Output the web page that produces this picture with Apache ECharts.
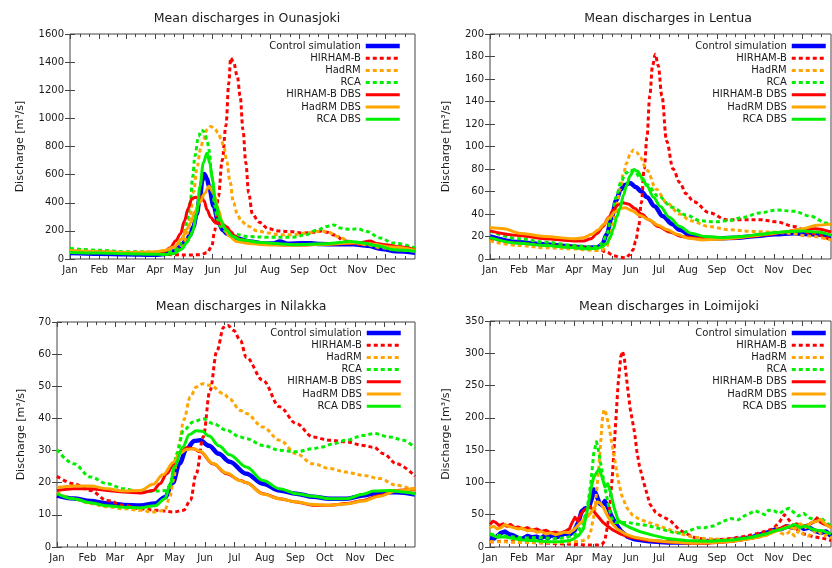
<!DOCTYPE html>
<html>
<head>
<meta charset="utf-8">
<script src="https://cdn.jsdelivr.net/npm/echarts@6/dist/echarts.min.js"></script>
<style>
  html, body { margin: 0; padding: 0; background: #fff; }
  #chart { width: 832px; height: 568px; }
</style>
</head>
<body>
<div id="chart"></div>
<script>
// Month axis: day-of-year where each month starts, and its label
const monthStarts = [0, 31, 59, 90, 120, 151, 181, 212, 243, 273, 304, 334];
const monthNames = ['Jan', 'Feb', 'Mar', 'Apr', 'May', 'Jun', 'Jul', 'Aug', 'Sep', 'Oct', 'Nov', 'Dec'];

const seriesNames = ['Control simulation', 'HIRHAM-B', 'HadRM', 'RCA', 'HIRHAM-B DBS', 'HadRM DBS', 'RCA DBS'];

// ---- Ounasjoki: [day of year, discharge m3/s] ----
const ounasControl = [[0,42],[31,37],[59,34],[90,30],[100,35],[110,55],[116,85],[123,130],[127,170],[130.5,230],[134,320],[137.6,445],[140,560],[142,605],[145,570],[147,517],[152,375],[157,256],[162,205],[166,180],[176,148],[190,125],[205,112],[215,110],[222,125],[230,108],[245,112],[255,112],[265,106],[280,105],[300,105],[315,95],[330,72],[345,55],[365,45]];
const ounasHir = [[0,60],[31,50],[59,45],[90,40],[100,33],[110,30],[125,28],[138,30],[145,45],[150,90],[153,200],[157,445],[161,700],[165,950],[168,1250],[170,1430],[173,1400],[177,1300],[180,1160],[183,920],[186,685],[189,470],[193,320],[200,262],[210,215],[220,200],[232,195],[245,185],[258,190],[266,200],[272,190],[280,170],[290,130],[305,105],[318,108],[330,100],[345,88],[365,70]];
const ounasHad = [[0,62],[31,52],[59,47],[90,50],[100,58],[110,62],[116,75],[120,95],[124,180],[127,300],[131,480],[134,635],[138,780],[141,850],[145,920],[149,943],[153,925],[157,896],[160,850],[163,790],[166,690],[169,560],[173,400],[177,320],[181,270],[188,235],[198,200],[210,185],[220,173],[236,173],[250,185],[262,196],[272,196],[283,160],[297,125],[314,100],[330,80],[345,65],[365,55]];
const ounasRca = [[0,75],[31,62],[59,52],[90,48],[100,45],[110,55],[116,100],[120,160],[124,270],[127,398],[130,590],[132,730],[136,872],[139,915],[142,905],[145,850],[147,777],[150,600],[153,380],[156,280],[159,230],[166,190],[173,180],[187,160],[208,155],[236,155],[250,173],[261,205],[272,232],[279,242],[286,220],[297,210],[304,215],[314,196],[328,150],[342,114],[365,78]];
const ounasHirDbs = [[0,55],[31,50],[59,47],[90,45],[100,55],[106,80],[112,130],[117,180],[121,270],[125,360],[129,430],[133,440],[136,430],[139,445],[142,410],[145,350],[149,295],[153,265],[158,252],[162,245],[166,228],[170,195],[174,165],[180,138],[190,120],[205,105],[225,100],[250,100],[270,105],[290,110],[305,115],[318,128],[324,110],[335,100],[350,85],[365,65]];
const ounasHadDbs = [[0,60],[31,52],[59,47],[90,50],[100,60],[110,85],[118,140],[124,215],[128,260],[132,335],[137,400],[143,470],[147,517],[152,470],[157,350],[162,232],[169,160],[176,125],[190,110],[210,100],[240,100],[270,105],[300,115],[320,105],[340,85],[365,62]];
const ounasRcaDbs = [[0,47],[31,42],[59,38],[90,34],[100,32],[110,40],[118,70],[124,120],[127,160],[130,200],[134,327],[137.6,517],[141,683],[145,754],[148,680],[150.7,564],[154,398],[159,280],[165,210],[172,162],[180,137],[201,118],[236,102],[272,109],[297,125],[307,118],[325,95],[342,66],[365,55]];

// ---- Lentua ----
const lenControl = [[0,20],[31,15],[59,13],[90,11],[105,10],[115,10.5],[120,13],[125,22],[130,36],[135,52],[140,62],[145,66],[150,67.5],[156,64],[162,60],[168,55],[176,47],[185,38],[195,31],[203,26],[215,21],[228,19],[245,18.5],[265,19],[285,20.5],[305,22],[325,23],[345,22],[365,20]];
const lenHir = [[0,17],[31,14],[59,12],[90,11],[110,10],[118,8],[125,6],[132,3],[139,1.5],[145,1],[150,4],[153,8],[156,16],[159,28],[162,50],[165,80],[168,108],[171,145],[174,172],[177,182],[180,172],[184,145],[189,105],[196,80],[203,68],[210,58],[218,51],[235,41],[253,35],[270,35],[289,35],[307,33],[325,29],[343,23],[365,17]];
const lenHad = [[0,16],[31,12],[59,10],[90,9],[105,8],[115,7.5],[120,8],[125,11],[128,18],[132,32],[136,50],[139,62],[143,76],[146,85],[150,93],[153.5,97],[157,95],[161,90],[168,79],[178,62],[189,50],[203,40],[215,34],[234,29],[255,26],[280,24.5],[300,24],[320,23],[340,20.5],[365,17]];
const lenRca = [[0,25],[31,18],[59,15],[90,12],[105,11],[115,11],[120,14],[125,22],[130,38],[135,55],[140,68],[145,76],[150,79],[155,78],[160,73],[168,66],[180,56],[195,46],[210,39],[225,34],[240,33],[255,34],[271,37],[289,41],[307,43.5],[325,42.5],[343,38],[360,32],[365,30]];
const lenHirDbs = [[0,25],[31,21],[59,18],[90,16],[100,16],[108,18],[115,23],[121,29],[127,37],[132,43.5],[137,48],[142,50],[148,49],[155,45],[162,40],[170,35],[180,29],[192,24],[205,20],[220,18.5],[240,18],[260,18.5],[277,20],[295,21.5],[312,23.5],[330,26],[348,27],[365,24]];
const lenHadDbs = [[0,28],[15,27],[31,23],[59,20],[90,18],[100,19],[109,22],[116,26],[122,31],[128,37],[134,42],[140,45],[145,45.5],[152,43],[160,39],[170,35],[180,30],[190,26],[200,22],[212,18.5],[228,17],[245,17.5],[265,19],[285,21],[300,22.5],[320,24.5],[335,27],[350,30],[365,31]];
const lenRcaDbs = [[0,19],[31,14],[59,12],[90,10],[105,9],[115,9.5],[120,11],[125,14],[129,20],[132,27],[136,38],[139,45],[143,57],[146,65],[150,74],[154,79.5],[158,78],[163,72],[168,65],[175,55],[182,47],[192,37],[203,29],[215,23],[230,20],[250,19],[270,20],[290,22],[305,23.5],[320,24.5],[335,25],[350,24],[365,21]];

// ---- Nilakka ----
const nilControl = [[0,16],[17,15.1],[34,14.3],[51,13.6],[68,13.1],[85,12.9],[100,13.5],[110,15.5],[118,20],[125,26],[132,30.5],[140,33],[146,33.2],[155,31.5],[165,29],[176,26.5],[193,22.8],[210,19.7],[227,17.6],[244,16.6],[261,15.6],[278,15],[295,15],[312,16],[329,17],[346,17],[365,16.3]];
const nilHir = [[0,22],[17,19.7],[34,17.6],[51,14.5],[68,13],[85,11.9],[102,11.4],[119,10.9],[129,11.4],[136,14.5],[142,22.8],[149,34.2],[156,48.7],[163,61],[170,68.4],[174,69],[180,67.4],[187,64.3],[193,59],[210,51.8],[227,43.6],[244,38.4],[261,34.2],[278,33.2],[295,32.7],[312,31.6],[323,31],[333,29],[346,25.9],[365,22]];
const nilHad = [[0,17],[17,15],[34,13.5],[51,12.5],[68,11.9],[85,11.4],[98,10.9],[110,11.4],[115,15.6],[119,21],[122,27],[125,33],[129,39.4],[136,46.7],[142,49.8],[149,50.8],[156,50.3],[170,47.7],[176,46],[187,42.5],[193,41.5],[210,37.3],[227,33.2],[244,29],[261,25.9],[278,24.4],[295,23.3],[312,22.3],[329,21.3],[346,19.2],[365,17.5]];
const nilRca = [[0,30.3],[17,25.9],[34,21.8],[51,19.7],[68,18.1],[85,17.1],[102,17.4],[112,17.6],[116,20],[119,25],[122,29],[129,36.3],[139,38.9],[149,39.9],[159,38.4],[173,36.3],[187,34.2],[193,33.7],[210,31.6],[227,30.1],[244,29.6],[261,30.6],[270,31.1],[280,32],[295,33.2],[312,34.7],[323,35.3],[340,34.2],[353,33.2],[365,30.8]];
const nilHirDbs = [[0,17.6],[17,18.1],[34,18.1],[51,17.6],[68,17.1],[85,16.8],[98,17.6],[105,19.7],[112,22.8],[119,25.9],[125,29],[132,30.9],[139,30.6],[146,29.6],[159,25.9],[173,22.8],[187,20.7],[193,20],[210,16.6],[227,15],[244,14],[261,13],[278,13],[295,13.5],[312,14.5],[329,16],[346,17.6],[365,18.1]];
const nilHadDbs = [[0,18.5],[17,19],[34,19],[51,18.1],[68,17.4],[85,17.6],[98,19.5],[108,22.5],[119,26.4],[125,29],[132,30.3],[139,30.6],[146,29.8],[159,26],[173,23],[187,20.6],[193,20],[210,16.5],[227,15],[244,14],[261,13.2],[278,13],[295,13.4],[312,14.3],[329,15.8],[346,17.5],[365,18.3]];
const nilRcaDbs = [[0,16.6],[17,15],[34,13.8],[51,12.8],[68,12.4],[85,12.2],[100,12.8],[110,15],[115,19],[120,25],[128,31],[135,35],[142,36.2],[148,36],[155,34.5],[165,31.5],[176,28.7],[193,24.9],[210,20.7],[227,18.1],[244,16.6],[261,15.8],[278,15],[295,15],[312,16.4],[323,17.4],[340,17.6],[353,17.1],[365,16.5]];

// ---- Loimijoki ----
const loiControl = [[0,14],[4,13],[8,17],[12,22],[16,24],[20,20],[25,18],[30,14],[35,13],[40,17],[45,15],[50,16],[54,13],[58,17],[62,14],[66,19],[70,15],[75,17],[80,21],[85,19],[90,24],[95,40],[98,55],[102,60],[106,62],[109,75],[111,89],[114,80],[117,68],[120,65],[123,71],[126,62],[130,48],[135,35],[140,25],[147,16],[155,12],[170,9],[190,7],[210,7],[230,8],[250,10],[265,12],[280,15],[290,20],[298,23],[305,27],[312,28],[318,32],[324,30],[330,34],[336,28],[342,30],[348,25],[354,22],[360,24],[365,17]];
const loiHir = [[0,8],[15,9],[30,8],[45,7],[60,6],[75,5],[90,4],[105,3],[115,3],[120,4],[123,10],[126,35],[128,60],[131,110],[134,180],[137,250],[140,295],[142,303],[144,290],[147,250],[150,215],[155,175],[157,150],[160,125],[164,103],[171,67],[177,54],[182,49],[193,41],[203,26],[218,15],[235,10],[257,13],[275,17],[286,21],[296,25],[303,28],[310,39],[315,50],[318,46],[323,36],[332,22],[346,16],[358,13],[365,10]];
const loiHad = [[0,8],[15,8],[30,7],[45,7],[60,7],[75,7],[90,8],[100,10],[105,14],[108,25],[112,55],[115,100],[118,150],[120,195],[122,213],[124,208],[127,189],[130,165],[133,140],[137,105],[141,80],[146,62],[152,50],[160,43],[170,38],[180,33],[190,28],[203,21],[215,16],[230,13],[245,12],[260,12],[275,13],[287,15],[296,18],[302,24],[307,30],[311,22],[316,19],[321,24],[326,17],[331,26],[336,19],[341,17],[346,23],[351,26],[356,17],[361,19],[365,13]];
const loiRca = [[0,20],[10,18],[20,16],[30,15],[40,14],[50,15],[60,14],[70,13],[80,14],[90,18],[95,25],[100,40],[104,60],[108,100],[111,145],[114,163],[116,150],[119,125],[122,100],[126,70],[130,45],[134,38],[140,38],[148,38],[155,36],[165,34],[175,31],[185,27],[195,23],[205,21],[215,26],[222,30],[230,30],[240,33],[250,40],[258,44],[266,42],[272,48],[278,52],[284,56],[289,53],[294,50],[298,57],[304,56],[310,52],[316,58],[320,60],[324,55],[330,48],[336,52],[342,45],[348,42],[354,45],[360,38],[365,32]];
const loiHirDbs = [[0,35],[3,40],[6,38],[10,33],[14,36],[18,32],[22,35],[26,30],[30,31],[35,28],[40,30],[45,26],[50,28],[55,24],[60,26],[65,22],[70,23],[75,21],[80,24],[85,28],[88,38],[91,46],[94,40],[97,50],[100,56],[104,60],[107,63],[110,57],[113,52],[117,45],[121,38],[126,32],[132,26],[140,20],[150,15],[165,11],[185,8],[210,6],[235,6],[255,8],[270,11],[285,15],[295,20],[303,24],[310,28],[316,33],[322,30],[328,36],[334,32],[340,34],[346,38],[350,45],[354,38],[358,35],[362,33],[365,30]];
const loiHadDbs = [[0,30],[4,32],[8,28],[12,30],[16,35],[20,32],[25,30],[30,28],[35,29],[40,25],[45,27],[50,23],[55,24],[60,20],[65,22],[70,19],[75,21],[80,23],[85,22],[90,27],[95,35],[100,42],[105,48],[109,55],[112,62],[115,70],[118,68],[121,62],[125,50],[130,38],[136,28],[145,20],[155,15],[170,11],[190,8],[215,6],[240,7],[260,9],[280,13],[295,18],[305,24],[313,28],[320,32],[326,28],[332,36],[338,30],[344,38],[350,40],[354,43],[357,38],[361,33],[365,30]];
const loiRcaDbs = [[0,20],[8,15],[15,16],[25,13],[35,11],[45,10],[55,9],[65,8],[75,8],[85,10],[90,13],[95,18],[100,28],[104,55],[108,90],[111,108],[114,115],[117,121],[120,108],[123,93],[126,98],[129,85],[133,60],[137,42],[142,36],[150,30],[160,24],[175,18],[190,13],[210,10],[235,9],[260,11],[280,15],[295,20],[305,25],[313,28],[320,31],[326,35],[332,30],[338,33],[344,28],[350,26],[356,25],[362,22],[365,20]];

// Panel definitions (titles, value ranges, data) and their placement on the page
const panels = [
  { title: 'Mean discharges in Ounasjoki', yMax: 1600, yStep: 200, smooth: 0.35,
    data: [ounasControl, ounasHir, ounasHad, ounasRca, ounasHirDbs, ounasHadDbs, ounasRcaDbs],
    box: { left: 70, top: 34, width: 345, height: 225 }, nameGap: 44, titleX: 242, titleY: 7, legendRight: 430, legendTop: 40 },
  { title: 'Mean discharges in Lentua', yMax: 200, yStep: 20, smooth: 0.35,
    data: [lenControl, lenHir, lenHad, lenRca, lenHirDbs, lenHadDbs, lenRcaDbs],
    box: { left: 490, top: 34, width: 341, height: 225 }, nameGap: 38, titleX: 663, titleY: 7, legendRight: 4, legendTop: 40 },
  { title: 'Mean discharges in Nilakka', yMax: 70, yStep: 10, smooth: 0.35,
    data: [nilControl, nilHir, nilHad, nilRca, nilHirDbs, nilHadDbs, nilRcaDbs],
    box: { left: 57, top: 322, width: 358, height: 225 }, nameGap: 30, titleX: 236, titleY: 295, legendRight: 429, legendTop: 327 },
  { title: 'Mean discharges in Loimijoki', yMax: 350, yStep: 50, smooth: false,
    data: [loiControl, loiHir, loiHad, loiRca, loiHirDbs, loiHadDbs, loiRcaDbs],
    box: { left: 490, top: 321, width: 341, height: 226 }, nameGap: 38, titleX: 664, titleY: 295, legendRight: 4, legendTop: 327 }
];

// Line look of each of the seven curves
const lineStyles = [
  { color: '#0000ff', width: 4.5, type: 'solid' },
  { color: '#ff0000', width: 3, type: [4, 3] },
  { color: '#ffa500', width: 3, type: [4, 3] },
  { color: '#00f000', width: 3, type: [4, 3] },
  { color: '#ff0000', width: 3, type: 'solid' },
  { color: '#ffa500', width: 3, type: 'solid' },
  { color: '#00f000', width: 3, type: 'solid' }
];

// Minor ticks: two per month between the month starts
const minorTicks = [];
monthStarts.forEach((s, i) => {
  const e = i < monthStarts.length - 1 ? monthStarts[i + 1] : 365;
  minorTicks.push(s + (e - s) / 3, s + 2 * (e - s) / 3);
});

const frame = '#444';
const textColor = '#1a1a1a';

const grid = [], xAxis = [], yAxis = [], series = [], title = [], legend = [];

panels.forEach((p, g) => {
  grid.push(Object.assign({ show: true, borderColor: frame, borderWidth: 1, containLabel: false }, p.box));

  const baseX = { type: 'value', gridIndex: g, min: 0, max: 365, splitLine: { show: false }, axisLine: { show: false } };
  // bottom: month labels and major ticks
  xAxis.push(Object.assign({}, baseX, {
    position: 'bottom',
    axisTick: { show: true, inside: true, length: 5, customValues: monthStarts, lineStyle: { color: frame } },
    axisLabel: { show: true, customValues: monthStarts, margin: 6, fontSize: 10, color: textColor,
      formatter: v => monthNames[monthStarts.indexOf(Math.round(v))] || '' }
  }));
  // bottom minor ticks
  xAxis.push(Object.assign({}, baseX, {
    position: 'bottom',
    axisTick: { show: true, inside: true, length: 3, customValues: minorTicks, lineStyle: { color: frame } },
    axisLabel: { show: false }
  }));
  // top mirror ticks
  xAxis.push(Object.assign({}, baseX, {
    position: 'top',
    axisTick: { show: true, inside: true, length: 5, customValues: monthStarts, lineStyle: { color: frame } },
    axisLabel: { show: false }
  }));
  xAxis.push(Object.assign({}, baseX, {
    position: 'top',
    axisTick: { show: true, inside: true, length: 3, customValues: minorTicks, lineStyle: { color: frame } },
    axisLabel: { show: false }
  }));

  const baseY = { type: 'value', gridIndex: g, min: 0, max: p.yMax, interval: p.yStep,
    splitLine: { show: false }, axisLine: { show: false } };
  yAxis.push(Object.assign({}, baseY, {
    position: 'left',
    name: 'Discharge [m³/s]', nameLocation: 'middle', nameGap: p.nameGap,
    nameTextStyle: { fontSize: 11, color: textColor },
    axisTick: { show: true, inside: true, length: 5, lineStyle: { color: frame } },
    axisLabel: { fontSize: 10, color: textColor, margin: 6, formatter: v => String(v) }
  }));
  yAxis.push(Object.assign({}, baseY, {
    position: 'right',
    axisTick: { show: true, inside: true, length: 5, lineStyle: { color: frame } },
    axisLabel: { show: false }
  }));

  title.push({
    text: p.title, left: p.titleX, top: p.titleY, textAlign: 'center',
    textStyle: { fontSize: 12.5, fontWeight: 'normal', color: textColor, fontFamily: 'DejaVu Sans' }
  });

  legend.push({
    data: seriesNames, orient: 'vertical', right: p.legendRight, top: p.legendTop,
    align: 'right', itemWidth: 34, itemHeight: 12, itemGap: 0.2, padding: 0,
    selectedMode: false,
    itemStyle: { opacity: 0 },
    lineStyle: { width: 'inherit', type: 'inherit', cap: 'butt' },
    textStyle: { fontSize: 10, lineHeight: 12, color: textColor, fontFamily: 'DejaVu Sans' }
  });

  p.data.forEach((d, k) => {
    series.push({
      name: seriesNames[k], type: 'line', data: d,
      xAxisIndex: g * 4, yAxisIndex: g * 2,
      showSymbol: false, symbol: 'none',
      smooth: p.smooth, smoothMonotone: 'x',
      lineStyle: Object.assign({ cap: 'butt', join: 'round' }, lineStyles[k]),
      itemStyle: { color: lineStyles[k].color },
      z: 2 + k
    });
  });
});

const chart = echarts.init(document.getElementById('chart'), null, { renderer: 'canvas' });
chart.setOption({
  animation: false,
  backgroundColor: '#ffffff',
  textStyle: { fontFamily: 'DejaVu Sans' },
  title, legend, grid, xAxis, yAxis, series
});
</script>
</body>
</html>
